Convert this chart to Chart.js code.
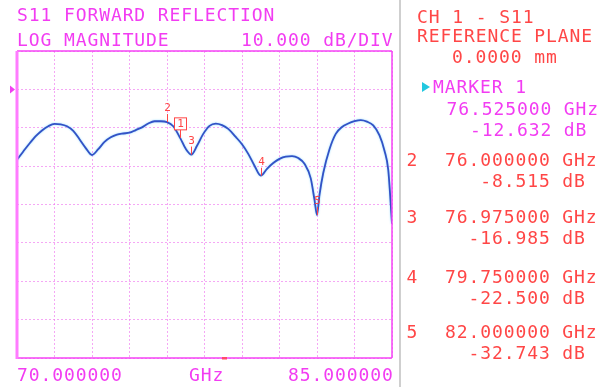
<!DOCTYPE html>
<html>
<head>
<meta charset="utf-8">
<script src="https://cdn.jsdelivr.net/npm/chart.js@4.4.1/dist/chart.umd.min.js"></script>
<style>
  html, body { margin: 0; padding: 0; background: #ffffff; }
  #wrap { position: relative; width: 611px; height: 387px; overflow: hidden; background: #ffffff; }
  #plot { position: absolute; left: 0; top: 0; }
  .txt {
    position: absolute; white-space: pre; margin: 0;
    font-family: "DejaVu Sans Mono", "Liberation Mono", monospace;
    font-size: 18px; line-height: 18px; letter-spacing: 0.9px;
  }
  #divider { position: absolute; left: 399px; top: 0; width: 2px; height: 387px; background: #cfcfcf; }
  #cursor {
    position: absolute; left: 422px; top: 82px; width: 0; height: 0;
    border-top: 5px solid transparent; border-bottom: 5px solid transparent;
    border-left: 8px solid #22c8e0;
  }
</style>
</head>
<body>
<div id="wrap">
  <canvas id="plot" width="611" height="387"></canvas>
  <div id="divider"></div>
  <div id="cursor"></div>
</div>
<script>
// S11 log-magnitude trace, 70 to 85 GHz
const freqGHz = [
  70.0, 70.25, 70.5, 70.75, 71.0, 71.25, 71.5, 71.75, 72.0, 72.25,
  72.5, 72.75, 73.0, 73.25, 73.5, 73.75, 74.0, 74.25, 74.5, 74.75,
  75.0, 75.25, 75.5, 75.75, 76.0, 76.25, 76.525, 76.75, 76.975, 77.2,
  77.45, 77.7, 77.95, 78.2, 78.45, 78.75, 79.0, 79.25, 79.5, 79.75,
  80.0, 80.25, 80.5, 80.75, 81.0, 81.25, 81.5, 81.75, 81.9, 82.0,
  82.1, 82.25, 82.5, 82.75, 83.0, 83.25, 83.5, 83.75, 84.0, 84.25,
  84.5, 84.7, 84.85, 85.0
];
const s11dB = [
  -18.3, -16.2, -14.1, -12.2, -10.7, -9.6, -9.0, -9.1, -9.6, -10.8,
  -13.0, -15.3, -17.1, -15.6, -13.7, -12.5, -11.8, -11.5, -11.3, -10.6,
  -9.9, -8.9, -8.3, -8.3, -8.515, -9.6, -12.632, -15.5, -16.985, -14.7,
  -11.6, -9.5, -8.9, -9.3, -10.3, -12.4, -14.3, -16.8, -19.9, -22.5,
  -20.7, -19.2, -18.1, -17.5, -17.4, -17.9, -19.4, -23.2, -28.8, -32.743,
  -27.5, -21.8, -15.6, -11.6, -9.8, -8.9, -8.3, -8.0, -8.4, -9.4,
  -12.0, -16.0, -21.0, -35.0
];

// Markers
const markerNum  = [1, 2, 3, 4, 5];
const markerFreq = [76.525, 76.0, 76.975, 79.75, 82.0];
const markerDB   = [-12.632, -8.515, -16.985, -22.5, -32.743];
const activeMarker = 1;

// Axis setup and labels
const xStart = 70, xStop = 85, xStep = 1.5;
const refLevel = 0, dbPerDiv = 10, yTop = 10, yBottom = -70;
const xTickLabels = ['70.000000', 'GHz', '85.000000'];
const headerLines = ['S11 FORWARD REFLECTION', 'LOG MAGNITUDE'];
const scaleLabel = '10.000 dB/DIV';
const channelLines = ['CH 1 - S11', 'REFERENCE PLANE', '0.0000 mm'];
const stimulusMark = 78.3;

const MAGENTA = '#f23cf2';
const RED = '#ff4646';
const GRID = 'rgba(240,120,240,0.65)';
const TRACE = '#3352c6';

const wrap = document.getElementById('wrap');
function place(text, x, baseline, color) {
  const d = document.createElement('div');
  d.className = 'txt';
  d.textContent = text;
  d.style.left = x + 'px';
  d.style.top = (baseline - 15.2) + 'px';
  d.style.color = color;
  wrap.appendChild(d);
  return d;
}

// Header
place(headerLines[0], 17, 20.7, MAGENTA);
place(headerLines[1], 17, 46.5, MAGENTA);
place(scaleLabel, 241, 46.5, MAGENTA);

// Frequency labels under the grid
place(xTickLabels[0], 17, 381, MAGENTA);
place(xTickLabels[1], 189, 381, MAGENTA);
place(xTickLabels[2], 288, 381, MAGENTA);

// Channel panel
place(channelLines[0], 417, 22.7, RED);
place(channelLines[1], 417, 41.7, RED);
place(channelLines[2], 452, 63, RED);

// Marker readouts
place('MARKER ' + activeMarker, 433, 93.3, MAGENTA);
const readBase = [115, 166, 223.3, 283.3, 338.3];
markerNum.forEach((n, i) => {
  const col = n === activeMarker ? MAGENTA : RED;
  const fx = n === activeMarker ? 446.5 : 445;
  if (n !== activeMarker) place(String(n), 406.5, readBase[i], RED);
  place(markerFreq[i].toFixed(6) + ' GHz', fx, readBase[i], col);
  place((markerDB[i].toFixed(3) + ' dB').padStart(12), fx, readBase[i] + 21, col);
});

// Soft glow behind the trace
const traceGlow = {
  id: 'traceGlow',
  beforeDatasetDraw(chart) {
    const ctx = chart.ctx;
    ctx.save();
    ctx.shadowColor = 'rgba(90,200,255,0.7)';
    ctx.shadowBlur = 2;
  },
  afterDatasetDraw(chart) {
    chart.ctx.restore();
  }
};

// Frame, reference arrow and marker flags
const analyzerDecor = {
  id: 'analyzerDecor',
  afterDatasetsDraw(chart) {
    const { ctx, chartArea: a, scales: { x, y } } = chart;
    ctx.save();
    // frame
    ctx.strokeStyle = '#f545f5';
    ctx.lineWidth = 1.5;
    ctx.beginPath();
    ctx.moveTo(a.left, a.top); ctx.lineTo(a.right, a.top);
    ctx.moveTo(a.right, a.top); ctx.lineTo(a.right, a.bottom);
    ctx.moveTo(a.left, a.bottom); ctx.lineTo(a.right, a.bottom);
    ctx.stroke();
    ctx.fillStyle = '#ff7cff';
    ctx.fillRect(a.left - 1.5, a.top, 3, a.bottom - a.top + 1);

    // reference level arrow
    const ry = y.getPixelForValue(refLevel);
    ctx.fillStyle = '#f040f0';
    ctx.beginPath();
    ctx.moveTo(a.left - 7, ry - 4);
    ctx.lineTo(a.left - 2, ry);
    ctx.lineTo(a.left - 7, ry + 4);
    ctx.closePath();
    ctx.fill();

    // stimulus tick on the bottom edge
    ctx.fillStyle = '#ff4a6a';
    ctx.fillRect(x.getPixelForValue(stimulusMark) - 2.5, a.bottom - 1, 5, 2.5);

    // marker flags
    ctx.strokeStyle = RED;
    ctx.fillStyle = RED;
    ctx.lineWidth = 1;
    ctx.font = '11px "DejaVu Sans Mono", monospace';
    ctx.textAlign = 'center';
    ctx.textBaseline = 'middle';
    markerNum.forEach((n, i) => {
      const px = Math.round(x.getPixelForValue(markerFreq[i])) + 0.5;
      const py = y.getPixelForValue(markerDB[i]);
      const ly = py - 14;
      ctx.beginPath();
      ctx.moveTo(px, ly + 6);
      ctx.lineTo(px, py);
      ctx.stroke();
      if (n === activeMarker) {
        ctx.fillStyle = '#ffffff';
        ctx.fillRect(px - 6, ly - 6, 12, 12);
        ctx.fillStyle = RED;
        ctx.strokeRect(px - 6, ly - 6, 12, 12);
      }
      ctx.fillText(String(n), px, ly + 0.5);
    });
    ctx.restore();
  }
};

new Chart(document.getElementById('plot'), {
  type: 'line',
  data: {
    datasets: [{
      data: freqGHz.map((f, i) => ({ x: f, y: s11dB[i] })),
      borderColor: TRACE,
      borderWidth: 1.8,
      pointRadius: 0,
      fill: false,
      cubicInterpolationMode: 'monotone'
    }]
  },
  options: {
    responsive: false,
    animation: false,
    devicePixelRatio: 1,
    layout: { padding: { left: 17, top: 51, right: 219, bottom: 29 } },
    plugins: { legend: { display: false }, tooltip: { enabled: false } },
    scales: {
      x: {
        type: 'linear', min: xStart, max: xStop,
        ticks: { display: false, stepSize: xStep },
        grid: { color: GRID, lineWidth: 1, drawTicks: false },
        border: { display: false, dash: [2, 2] }
      },
      y: {
        type: 'linear', min: yBottom, max: yTop,
        ticks: { display: false, stepSize: dbPerDiv },
        grid: { color: GRID, lineWidth: 1, drawTicks: false },
        border: { display: false, dash: [2, 2] }
      }
    }
  },
  plugins: [traceGlow, analyzerDecor]
});
</script>
</body>
</html>
